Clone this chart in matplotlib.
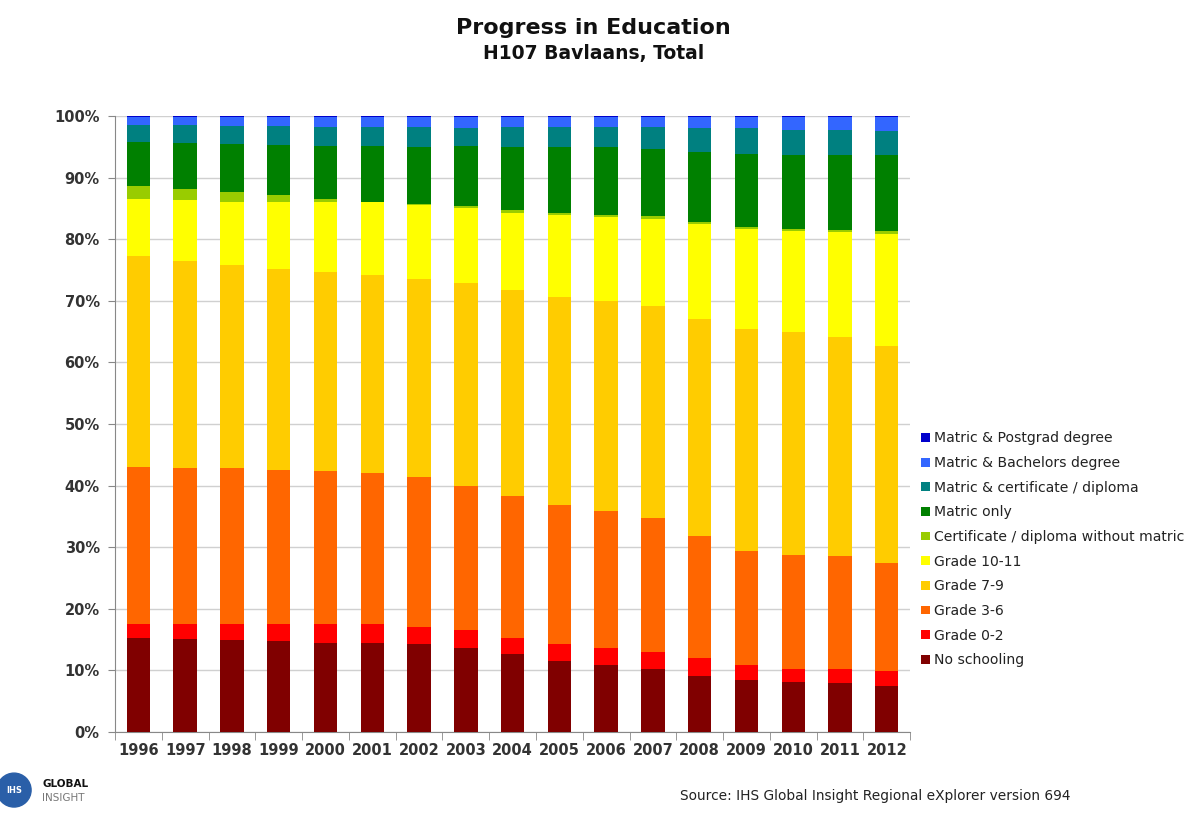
import matplotlib
matplotlib.use("Agg")
import matplotlib.pyplot as plt
import numpy as np
from matplotlib.patches import Circle, Patch

years = ["1996", "1997", "1998", "1999", "2000", "2001", "2002", "2003", "2004",
         "2005", "2006", "2007", "2008", "2009", "2010", "2011", "2012"]

no_schooling = [15.2, 15.1, 14.9, 14.7, 14.5, 14.5, 14.3, 13.6, 12.7, 11.6, 10.9, 10.2, 9.1, 8.5, 8.2, 7.9, 7.4]
grade_0_2 = [2.3, 2.4, 2.6, 2.8, 3.0, 3.0, 2.7, 3.0, 2.6, 2.7, 2.7, 2.8, 2.9, 2.3, 2.1, 2.3, 2.5]
grade_3_6 = [25.6, 25.4, 25.3, 25.1, 24.8, 24.6, 24.4, 23.3, 23.0, 22.5, 22.2, 21.7, 19.8, 18.6, 18.5, 18.3, 17.5]
grade_7_9 = [34.2, 33.5, 33.0, 32.5, 32.4, 32.1, 32.1, 32.9, 33.4, 33.8, 34.1, 34.5, 35.3, 36.0, 36.2, 35.7, 35.3]
grade_10_11 = [9.2, 9.9, 10.3, 11.0, 11.3, 11.8, 12.0, 12.2, 12.6, 13.3, 13.7, 14.1, 15.3, 16.3, 16.4, 17.0, 18.1]
cert_no_matric = [2.1, 1.9, 1.5, 1.0, 0.5, 0.1, 0.2, 0.3, 0.4, 0.3, 0.3, 0.4, 0.4, 0.3, 0.3, 0.3, 0.5]
matric_only = [7.2, 7.4, 7.9, 8.2, 8.6, 9.0, 9.3, 9.7, 10.3, 10.8, 11.0, 10.9, 11.3, 11.9, 12.0, 12.1, 12.4]
matric_cert = [2.8, 2.9, 2.9, 3.0, 3.1, 3.1, 3.2, 3.0, 3.2, 3.2, 3.3, 3.6, 3.9, 4.1, 4.1, 4.2, 3.9]
matric_bachelors = [1.3, 1.4, 1.5, 1.6, 1.7, 1.7, 1.7, 1.8, 1.7, 1.7, 1.7, 1.7, 1.9, 1.9, 2.1, 2.1, 2.3]
matric_postgrad = [0.1, 0.1, 0.1, 0.1, 0.1, 0.1, 0.1, 0.1, 0.1, 0.1, 0.1, 0.1, 0.1, 0.1, 0.1, 0.1, 0.1]

series_names = ["No schooling", "Grade 0-2", "Grade 3-6", "Grade 7-9", "Grade 10-11",
                "Certificate / diploma without matric", "Matric only",
                "Matric & certificate / diploma", "Matric & Bachelors degree",
                "Matric & Postgrad degree"]
series_values = [no_schooling, grade_0_2, grade_3_6, grade_7_9, grade_10_11,
                 cert_no_matric, matric_only, matric_cert, matric_bachelors, matric_postgrad]
colors = ["#800000", "#FF0000", "#FF6600", "#FFCC00", "#FFFF00",
          "#99CC00", "#008000", "#008080", "#3366FF", "#0000CC"]

data = np.array(series_values, dtype=float)
data = data / data.sum(axis=0) * 100.0  # 100% stacked

fig = plt.figure(figsize=(12.03, 8.14), dpi=100)
ax = fig.add_axes([0.0956, 0.1007, 0.661, 0.7568])

x = np.arange(len(years))
bottom = np.zeros(len(years))
for vals, c, name in zip(data, colors, series_names):
    ax.bar(x, vals, bottom=bottom, width=0.5, color=c, label=name, zorder=3,
           edgecolor="none")
    bottom += vals

ax.set_xlim(-0.5, len(years) - 0.5)
ax.set_ylim(0, 100)
ax.set_yticks(np.arange(0, 101, 10))
ax.set_yticklabels([f"{v}%" for v in range(0, 101, 10)], fontsize=10.5,
                   fontweight="bold", color="#333333")
ax.set_xticks(x)
ax.set_xticklabels(years, fontsize=10.5, fontweight="bold", color="#333333")
ax.set_xticks(np.arange(-0.5, len(years), 1), minor=True)
ax.tick_params(axis="x", which="major", length=0, pad=8)
ax.tick_params(axis="x", which="minor", length=6, color="#888888", direction="out")
ax.tick_params(axis="y", length=5, color="#888888", pad=6)
ax.yaxis.grid(True, color="#d0d0d0", linewidth=1, zorder=0)
ax.set_axisbelow(True)
for s in ["top", "right"]:
    ax.spines[s].set_visible(False)
for s in ["left", "bottom"]:
    ax.spines[s].set_color("#888888")

fig.text(0.4935, 0.965, "Progress in Education", ha="center", va="center",
         fontsize=16, fontweight="bold", color="#111111")
fig.text(0.4935, 0.934, "H107 Bavlaans, Total", ha="center", va="center",
         fontsize=13.5, fontweight="bold", color="#111111")

handles = [Patch(facecolor=c, edgecolor="none") for c in colors]
leg = fig.legend(handles[::-1], series_names[::-1], loc="upper left",
                 bbox_to_anchor=(0.761, 0.477), frameon=False, fontsize=10.1,
                 handlelength=0.6, handleheight=0.6, handletextpad=0.35,
                 labelspacing=0.76, borderaxespad=0)
for t in leg.get_texts():
    t.set_color("#222222")

fig.text(0.565, 0.013, "Source: IHS Global Insight Regional eXplorer version 694",
         ha="left", va="bottom", fontsize=9.9, color="#222222")

# logo
logo_ax = fig.add_axes([0.0, 0.0, 0.09, 0.06])
logo_ax.set_xlim(0, 108)
logo_ax.set_ylim(0, 49)
logo_ax.axis("off")
logo_ax.add_patch(Circle((14, 24), 17, color="#2a5fa8"))
logo_ax.text(14, 24, "IHS", color="white", ha="center", va="center", fontsize=6,
             fontweight="bold")
logo_ax.text(42, 30, "GLOBAL", color="#111111", ha="left", va="center",
             fontsize=7.5, fontweight="bold")
logo_ax.text(42, 16, "INSIGHT", color="#777777", ha="left", va="center",
             fontsize=7.5)

fig.savefig("out.png", dpi=100)
